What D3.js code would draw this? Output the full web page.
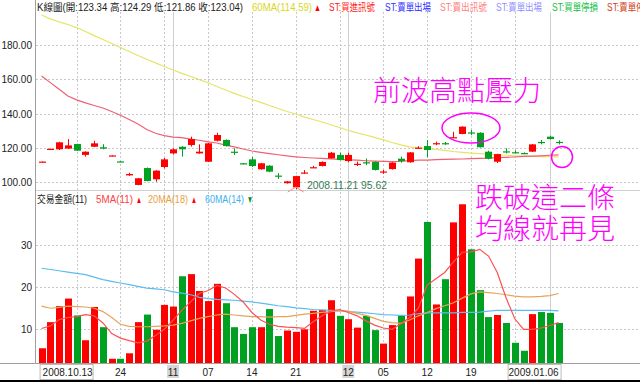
<!DOCTYPE html>
<html>
<head>
<meta charset="utf-8">
<script src="https://cdn.jsdelivr.net/npm/d3@7"></script>
<style>
  body { margin: 0; background: #fff; }
  text { font-family: "Liberation Sans", Arial, "Noto Sans CJK TC", sans-serif; }
  .mono { font-size: 10px; fill: #222; }
  .note { font-family: "Noto Sans CJK TC", sans-serif; font-weight: 300; font-size: 28px; fill: #ff00ff; }
</style>
</head>
<body>
<div id="chart"></div>
<script>
// trading days, 2008.10.13 - 2009.01.06
const dates = ["2008.10.13","2008.10.14","2008.10.15","2008.10.16","2008.10.17","2008.10.20","2008.10.21","2008.10.22","2008.10.23","2008.10.24",
  "2008.10.27","2008.10.28","2008.10.29","2008.10.30","2008.10.31","2008.11.03","2008.11.04","2008.11.05","2008.11.06","2008.11.07",
  "2008.11.10","2008.11.11","2008.11.12","2008.11.13","2008.11.14","2008.11.17","2008.11.18","2008.11.19","2008.11.20","2008.11.21",
  "2008.11.24","2008.11.25","2008.11.26","2008.11.27","2008.11.28","2008.12.01","2008.12.02","2008.12.03","2008.12.04","2008.12.05",
  "2008.12.08","2008.12.09","2008.12.10","2008.12.11","2008.12.12","2008.12.15","2008.12.16","2008.12.17","2008.12.18","2008.12.19",
  "2008.12.22","2008.12.23","2008.12.24","2008.12.25","2008.12.26","2008.12.29","2008.12.30","2008.12.31","2009.01.05","2009.01.06"];

const open  = [111.5,119.0,119.0,119.4,122.1,115.7,120.5,120.2,115.1,111.9, 103.7,98.1,108.0,101.4,108.6,116.6,120.5,121.5,116.6,111.7,
  124.0,124.5,117.6,110.8,113.1,107.3,109.4,103.6,99.1,96.7, 105.1,108.2,109.2,113.7,115.7,112.1,110.3,111.4,111.6,105.8,
  107.4,113.5,111.4,119.8,120.9,122.4,122.6,125.8,128.0,128.9, 128.7,117.6,111.7,117.8,117.3,116.8,117.6,123.3,126.4,123.34];
const high  = [111.9,119.4,123.4,125.0,122.3,117.8,124.0,122.0,115.5,112.0, 105.3,102.2,108.3,106.7,113.9,119.6,120.8,126.4,121.9,122.7,
  128.7,124.8,119.6,111.0,114.5,111.0,109.7,105.0,100.4,103.5, 106.8,109.3,111.9,117.4,117.0,117.0,111.8,113.6,111.9,106.9,
  111.4,114.7,117.4,120.8,124.5,123.5,123.3,129.3,132.5,130.3, 129.0,118.2,116.4,119.6,118.4,117.2,122.1,124.5,127.0,124.29];
const low   = [111.4,118.9,118.6,119.2,118.0,114.7,120.3,119.0,115.0,111.5, 103.5,97.9,100.2,100.0,107.8,116.0,114.7,120.6,116.4,111.5,
  123.6,120.6,115.7,110.3,108.6,107.0,105.6,101.6,98.9,95.62, 104.6,108.0,109.0,113.5,112.5,111.4,109.2,109.7,106.6,104.6,
  107.1,111.2,111.2,119.4,114.3,121.4,121.6,125.7,127.8,127.3, 120.0,113.1,111.0,116.6,116.6,116.2,117.4,121.9,124.8,121.86];
const close = [111.8,119.3,123.1,121.3,118.2,117.6,122.5,119.4,115.4,111.6, 104.5,102.0,100.4,106.5,113.1,119.0,119.0,125.0,117.6,122.5,
  127.4,120.9,117.2,110.5,109.2,110.8,105.9,103.3,100.2,103.3, 105.4,108.5,111.6,117.0,112.7,115.7,110.5,111.1,106.9,106.0,
  111.2,112.0,117.2,120.0,118.6,122.6,122.4,126.1,132.3,128.6, 120.2,113.5,116.2,117.5,117.1,116.5,121.9,122.9,125.0,123.04];

const priceMa60 = [197.8,195.5,193.7,192.2,190.4,188.1,185.7,183.4,181.1,178.7, 176.4,174.0,171.8,169.7,167.6,165.5,163.5,161.7,159.9,158.0,
  155.8,153.8,151.8,150.0,148.2,146.5,144.7,142.9,141.2,139.7, 137.9,136.5,135.0,133.4,131.8,130.0,128.6,127.4,126.0,124.5,
  123.0,121.6,120.4,119.8,119.4,119.0,118.4,117.7,117.2,116.8, 116.5,116.1,115.8,115.5,115.2,115.0,114.8,114.7,114.7,114.59];
const priceMaRed = [162.0,158.1,154.2,150.3,148.0,146.2,144.7,143.2,141.2,139.0, 136.5,133.8,130.6,128.4,127.0,126.2,125.8,125.0,124.3,123.4,
  122.7,121.5,120.4,119.2,118.0,117.2,116.5,115.8,115.1,114.6, 114.2,113.9,113.7,113.4,113.1,112.8,112.6,112.3,112.1,111.9,
  111.8,112.0,112.4,112.6,112.7,112.9,113.1,113.2,113.3,113.5, 113.7,113.8,114.1,114.3,114.5,114.8,115.0,115.2,115.5,115.7];

// 交易金額 (億)
const volume = [5.5,11.7,15.5,17.3,13.3,7.4,15.3,10.5,3.0,3.0, 4.3,11.7,13.5,9.9,15.8,15.4,22.6,23.1,19.1,16.7,
  20.8,16.2,10.5,8.9,10.5,10.5,14.8,8.4,9.7,9.4, 10.0,14.4,14.6,16.9,13.2,12.4,10.4,13.2,9.8,6.6,
  11.0,13.2,17.8,26.8,35.5,15.9,21.9,35.4,39.7,29.0, 19.3,12.9,13.4,11.5,6.8,4.9,13.6,14.1,13.9,11.5];
const volMa5 = [10.2,10.8,12.3,12.8,13.0,13.5,13.2,11.5,9.0,7.9, 7.3,6.8,7.2,8.5,10.0,12.2,14.5,16.5,18.5,19.2,
  20.4,19.8,18.3,16.5,14.0,12.2,11.2,10.7,10.5,10.4, 10.2,11.8,13.2,14.3,14.7,14.0,13.2,12.0,11.0,10.3,
  10.0,11.3,12.8,15.0,20.5,22.0,23.5,26.0,28.3,28.4, 29.0,27.4,23.5,17.5,12.5,10.0,10.0,10.3,10.9,11.6];
const volMa20 = [15.5,15.0,15.2,15.5,15.4,15.3,15.0,14.2,12.8,11.2, 10.7,10.6,10.6,10.7,10.8,11.0,11.4,12.0,12.6,13.0,
  13.4,13.6,13.4,13.2,13.0,13.0,12.9,13.0,13.0,13.3, 13.6,13.8,14.0,14.2,14.4,14.3,13.8,13.3,12.6,11.9,
  11.6,11.4,12.2,13.2,14.0,14.9,15.6,16.3,17.4,18.4, 18.9,18.7,18.5,18.2,17.9,17.7,17.7,17.8,18.0,18.5];
const volMa60 = [24.5,24.2,23.9,23.6,23.3,23.0,22.4,21.8,21.4,21.0, 20.6,20.2,19.8,19.6,19.4,18.9,18.6,18.2,17.6,17.3,
  17.1,17.0,16.9,16.7,16.5,16.2,15.9,15.6,15.4,15.1, 14.9,14.7,14.6,14.5,14.4,14.2,14.1,13.9,13.7,13.5,
  13.4,13.3,13.4,13.7,13.9,13.9,13.9,13.9,14.0,14.0, 14.1,14.3,14.5,14.5,14.5,14.5,14.5,14.5,14.5,14.4];

const priceTicks = [100, 120, 140, 160, 180];
const volTicks = [10, 20, 30];
const weekGrid = ["2008.10.17","2008.10.24","2008.10.31","2008.11.07","2008.11.14","2008.11.21","2008.11.28","2008.12.05","2008.12.12","2008.12.19","2008.12.26"];
const monthGrid = ["2008.11.03","2008.12.01","2009.01.05"];
const dayLabels = [["2008.10.24","24"],["2008.11.07","07"],["2008.11.14","14"],["2008.11.21","21"],["2008.12.05","05"],["2008.12.12","12"],["2008.12.19","19"]];
const monthLabels = [["2008.11.03","11"],["2008.12.01","12"]];

const width = 640, height = 382,
      plotLeft = 36, plotRight = 640,
      priceTop = 12, priceBottom = 190,
      volTop = 192, volBottom = 363,
      candleWidth = 7,
      red = "#ff0000", green = "#00a020";

const svg = d3.select("#chart").append("svg")
    .attr("width", width)
    .attr("height", height);

svg.append("rect").attr("width", width).attr("height", height).attr("fill", "#fff");

const x = d3.scalePoint().domain(dates).range([41.6, 558.6]);
const yP = d3.scaleLinear().domain([100, 180]).range([181.7, 45.3]);
const yV = d3.scaleLinear().domain([10, 30]).range([329.3, 245.1]);

const candles = dates.map((d, i) => ({ date: d, o: open[i], h: high[i], l: low[i], c: close[i], v: volume[i] }));
const colorOf = (d) => d.c >= d.o ? red : green;

svg.append("defs").selectAll("clipPath")
  .data([["clipP", priceTop, priceBottom], ["clipV", volTop, volBottom]])
  .enter().append("clipPath").attr("id", d => d[0])
  .append("rect").attr("x", plotLeft).attr("y", d => d[1]).attr("width", plotRight - plotLeft).attr("height", d => d[2] - d[1]);

// grid
const grid = svg.append("g").attr("stroke", "#c8c8c8").attr("stroke-dasharray", "2,2");
grid.selectAll(".hp").data(priceTicks).enter().append("line")
  .attr("x1", plotLeft).attr("x2", plotRight)
  .attr("y1", d => Math.round(yP(d)) + 0.5).attr("y2", d => Math.round(yP(d)) + 0.5);
grid.selectAll(".hv").data(volTicks).enter().append("line")
  .attr("x1", plotLeft).attr("x2", plotRight)
  .attr("y1", d => Math.round(yV(d)) + 0.5).attr("y2", d => Math.round(yV(d)) + 0.5);
grid.selectAll(".vw").data(weekGrid).enter().append("line")
  .attr("x1", d => Math.round(x(d)) + 0.5).attr("x2", d => Math.round(x(d)) + 0.5)
  .attr("y1", priceTop).attr("y2", volBottom);
svg.append("g").attr("stroke", "#cfcfcf")
  .selectAll("line").data(monthGrid).enter().append("line")
  .attr("x1", d => Math.round(x(d)) + 0.5).attr("x2", d => Math.round(x(d)) + 0.5)
  .attr("y1", priceTop).attr("y2", volBottom);

// frame
svg.append("line").attr("x1", plotLeft - 0.5).attr("x2", plotLeft - 0.5).attr("y1", 0).attr("y2", volBottom).attr("stroke", "#a0a0a0");
svg.append("line").attr("x1", plotLeft).attr("x2", plotRight).attr("y1", 190.5).attr("y2", 190.5).attr("stroke", "#d0d0d0");
svg.append("line").attr("x1", 0).attr("x2", plotRight).attr("y1", volBottom + 0.5).attr("y2", volBottom + 0.5).attr("stroke", "#a0a0a0");
svg.append("line").attr("x1", 0).attr("x2", width).attr("y1", 381).attr("y2", 381).attr("stroke", "#000").attr("stroke-width", 2);

// y labels
svg.selectAll(".plabel").data(priceTicks).enter().append("text")
  .attr("class", "mono").attr("x", 32).attr("y", d => yP(d) + 4)
  .style("text-anchor", "end").text(d => d.toFixed(2));
svg.selectAll(".vlabel").data(volTicks).enter().append("text")
  .attr("class", "mono").attr("x", 32).attr("y", d => yV(d) + 4)
  .style("text-anchor", "end").text(d => d);

// price panel
const pricePanel = svg.append("g").attr("clip-path", "url(#clipP)");
const lineP = (arr) => d3.line().x((d, i) => x(dates[i])).y(d => yP(d))(arr);
pricePanel.append("path").attr("d", lineP(priceMa60)).attr("fill", "none").attr("stroke", "#e4e466").attr("stroke-width", 1.2);
pricePanel.append("path").attr("d", lineP(priceMaRed)).attr("fill", "none").attr("stroke", "#f06070").attr("stroke-width", 1.2);

const candle = pricePanel.selectAll(".candle").data(candles).enter().append("g");
candle.append("line")
  .attr("x1", d => Math.round(x(d.date)) + 0.5).attr("x2", d => Math.round(x(d.date)) + 0.5)
  .attr("y1", d => yP(d.h)).attr("y2", d => yP(d.l))
  .attr("stroke", colorOf);
candle.append("rect")
  .attr("x", d => Math.round(x(d.date)) - 3)
  .attr("y", d => yP(Math.max(d.o, d.c)))
  .attr("width", candleWidth)
  .attr("height", d => Math.max(1.2, Math.abs(yP(d.o) - yP(d.c))))
  .attr("fill", colorOf);

// lowest point mark
const lowIdx = d3.minIndex(low);
svg.append("path")
  .attr("d", `M${x(dates[lowIdx]) - 8},192 L${x(dates[lowIdx])},187 L${x(dates[lowIdx]) + 8},192`)
  .attr("fill", "none").attr("stroke", "#ff8080");
svg.append("text").attr("x", 307).attr("y", 189)
  .attr("textLength", 80).attr("lengthAdjust", "spacingAndGlyphs")
  .style("font-size", "11px").style("fill", "#3a7d58")
  .text(dates[lowIdx] + "  " + low[lowIdx].toFixed(2));

// volume panel
const volPanel = svg.append("g").attr("clip-path", "url(#clipV)");
volPanel.selectAll(".vol").data(candles).enter().append("rect")
  .attr("x", d => Math.round(x(d.date)) - 3)
  .attr("y", d => yV(d.v))
  .attr("width", candleWidth)
  .attr("height", d => volBottom - yV(d.v))
  .attr("fill", colorOf);
const lineV = (arr) => d3.line().x((d, i) => x(dates[i])).y(d => yV(d))(arr);
[[volMa60, "#5cbcf0"], [volMa20, "#e6a45a"], [volMa5, "#ff5050"]].forEach(function (s) {
  volPanel.append("path").attr("d", lineV(s[0])).attr("fill", "none").attr("stroke", s[1]).attr("stroke-width", 1.2);
});

// headers: x, y, text, colour, width in the picture
const header = [
  [37, 11, "K線圖(開:123.34 高:124.29 低:121.86 收:123.04)", "#222", 206],
  [252, 11, "60MA(114.59)", "#d8d820", 60], [314, 11, "▲", red, 7],
  [329, 11, "ST:買進訊號", "#ff2020", 46], [385, 11, "ST:賣單出場", "#3030ff", 46],
  [440, 11, "ST:賣出訊號", "#ff8080", 47], [496, 11, "ST:賣單出場", "#9090ff", 46],
  [552, 11, "ST:買單停損", "#10c040", 46], [607, 11, "ST:賣單停損", "#d04020", 46],
  [37, 203, "交易金額(11)", "#222", 50],
  [96, 203, "5MA(11)", "#ff4040", 37], [136, 203, "▲", red, 6],
  [148, 203, "20MA(18)", "#e8a040", 40], [191, 203, "▲", red, 6],
  [205, 203, "60MA(14)", "#40b0f0", 39], [247, 203, "▼", "#009020", 6]
];
svg.selectAll(".hdr").data(header).enter().append("text")
  .attr("x", d => d[0]).attr("y", d => d[1])
  .attr("textLength", d => d[4]).attr("lengthAdjust", "spacingAndGlyphs")
  .style("font-size", "10px").style("fill", d => d[3])
  .text(d => d[2]);

// x axis labels
const endLabels = [[dates[0], "start"], [dates[dates.length - 1], "end"]];
const endG = svg.selectAll(".endl").data(endLabels).enter().append("g");
endG.append("rect")
  .attr("x", (d) => d[1] === "start" ? x(d[0]) - 1.5 : x(d[0]) - 50.5)
  .attr("y", 364.5).attr("width", 53).attr("height", 15)
  .attr("fill", "#fff").attr("stroke", "#bbb");
endG.append("text").attr("class", "mono")
  .attr("x", (d) => d[1] === "start" ? x(d[0]) + 1 : x(d[0]) + 0)
  .attr("y", 376).style("text-anchor", d => d[1]).text(d => d[0]);

const mG = svg.selectAll(".ml").data(monthLabels).enter().append("g");
mG.append("rect").attr("x", d => x(d[0]) - 6).attr("y", 365).attr("width", 12).attr("height", 13).attr("fill", "#d6d6d6");
mG.append("text").attr("class", "mono").attr("x", d => x(d[0])).attr("y", 376)
  .style("text-anchor", "middle").text(d => d[1]);
svg.selectAll(".dl").data(dayLabels).enter().append("text")
  .attr("class", "mono").attr("x", d => x(d[0])).attr("y", 376)
  .style("text-anchor", "middle").text(d => d[1]);

// annotations
svg.append("text").attr("class", "note").attr("x", 373).attr("y", 101).text("前波高點壓力");
svg.append("ellipse").attr("cx", 471).attr("cy", 128).attr("rx", 29).attr("ry", 15)
  .attr("fill", "none").attr("stroke", "#ff00ff").attr("stroke-width", 1.5);
svg.append("circle").attr("cx", 562).attr("cy", 157).attr("r", 10.5)
  .attr("fill", "none").attr("stroke", "#ff00ff").attr("stroke-width", 1.5);
const note2 = svg.append("text").attr("class", "note").attr("x", 475).attr("y", 208);
note2.append("tspan").text("跌破這二條");
note2.append("tspan").attr("x", 475).attr("dy", 31).text("均線就再見");
</script>
</body>
</html>
